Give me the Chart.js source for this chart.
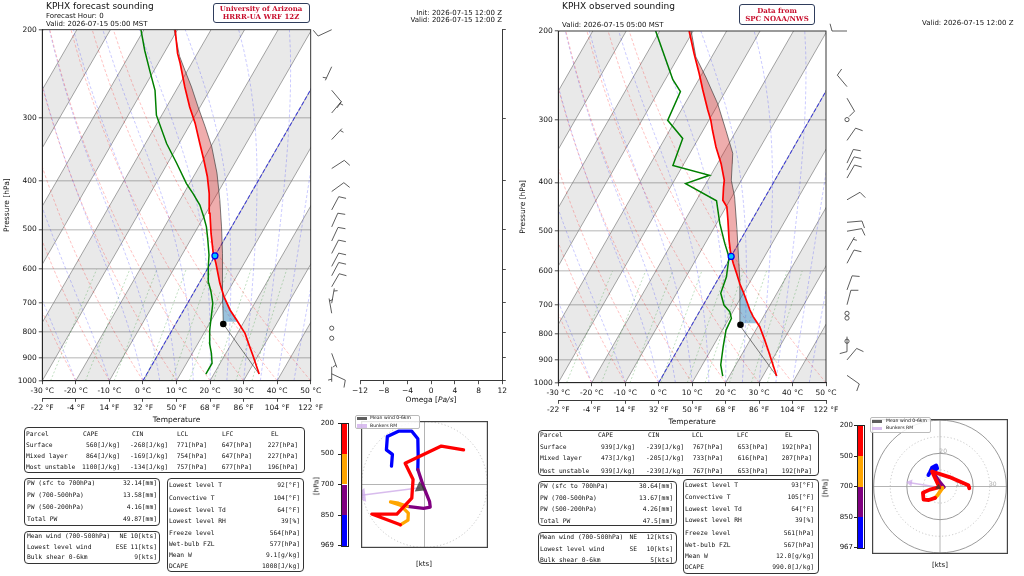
<!DOCTYPE html>
<html><head><meta charset="utf-8">
<title>KPHX soundings</title>
<script src="https://cdn.jsdelivr.net/npm/chart.js@4.4.1/dist/chart.umd.min.js"></script>
<style>
html,body{margin:0;padding:0;background:#fff;}
#page{position:relative;width:1024px;height:576px;overflow:hidden;font-family:"DejaVu Sans",sans-serif;color:#111;}
canvas{position:absolute;}
.tx{position:absolute;white-space:pre;line-height:1;will-change:transform;}
.box{position:absolute;box-sizing:border-box;border:1.2px solid #333;border-radius:4px;}
</style></head><body><div id="page">
<canvas id="skewL" width="360" height="425" style="left:0;top:0"></canvas>
<canvas id="omegaL" width="172" height="425" style="left:340px;top:0"></canvas>
<canvas id="skewR" width="368" height="427" style="left:512px;top:0"></canvas>
<canvas id="hodoL" width="143" height="143" style="left:352.7px;top:413.3px"></canvas>
<canvas id="hodoR" width="144" height="143" style="left:868.3px;top:415px"></canvas>
</div>
<script>
// ---------------- DATA ----------------
const TICKS_C = [-30,-20,-10,0,10,20,30,40,50];
const TICKS_P = [200,300,400,500,600,700,800,900,1000];
const TICKS_OMEGA = [-12,-8,-4,0,4,8,12];

// Left: forecast sounding (HRRR-UA)
const tempPL = [970,938,896,842,805,757,723,680,640,584,558,509,464,424,392,364,337,307,285,260,233,223,200];
const tempTL = [33.5,31.5,28.8,25.0,22.3,17.5,13.8,9.7,6.2,1.6,-0.9,-5.0,-8.8,-12.4,-15.9,-19.7,-23.8,-28.7,-33.1,-38.0,-43.5,-45.9,-50.7];
const dewPL  = [970,923,882,842,793,734,701,665,640,593,562,525,494,472,447,424,405,369,337,296,264,241,220,200];
const dewTL  = [17.6,17.6,15.7,13.4,11.2,8.9,7.5,5.0,2.9,-0.1,-1.9,-4.8,-7.5,-10.0,-13.2,-17.2,-20.9,-27.3,-33.7,-41.6,-46.3,-51.3,-56.2,-60.9];
const parcelPL = [970,771,701,611,558,494,437,386,342,312,285,260,241,226,200];
const parcelTL = [33.5,14.2,10.5,5.3,1.8,-3.0,-8.1,-13.6,-19.7,-25.1,-30.6,-36.0,-40.8,-44.8,-51.0];
const lclL = [771,14.2];
const freezeL = [564,0];
const cinLayerL = [763,647];
const capeLayerL = [647,227];
const barbPL   = [200,237,264,293,331,378,420,457,494,527,558,592,618,650,701,734,786,823,882,938,969];
const barbDirL = [245,205,140,40,43,57,54,28,24,25,27,28,28,30,10,350,0,0,160,180,115];
const barbSpdL = [10,5,10,5,5,10,10,10,10,10,10,10,10,10,5,5,0,0,5,5,10];

// Right: observed sounding (SPC)
const tempPR = [970,861,823,774,739,717,685,659,635,606,579,553,521,475,447,434,408,396,367,340,315,301,287,262,243,222,200];
const tempTR = [34.1,27.1,24.4,20.6,16.9,14.8,12.0,9.6,7.2,4.5,1.8,-0.7,-3.4,-7.2,-9.8,-12.1,-14.2,-15.1,-18.9,-23.3,-27.2,-29.4,-32.1,-37.0,-40.9,-45.8,-51.2];
const dewPR  = [970,922,848,786,745,723,701,664,616,563,528,482,435,402,387,370,327,301,264,250,200];
const dewTR  = [18.0,15.5,13.1,11.1,10.7,9.1,6.2,3.2,2.1,-0.5,-4.2,-9.1,-13.9,-26.1,-20.4,-33.0,-34.7,-42.3,-43.4,-47.7,-61.2];
const parcelPR = [970,770,700,626,497,427,396,350,315,279,247,225,200];
const parcelTR = [34.1,14.5,10.9,6.7,-2.8,-9.2,-13.0,-17.2,-23.2,-30.2,-38.3,-44.8,-50.6];
const lclR = [767,14.5];
const freezeR = [561,0];
const cinLayerR = [762,653];
const capeLayerR = [653,200];
const barbPR   = [200,258,272,300,330,366,378,392,433,480,500,545,579,654,700,728,744,810,827,901,967];
const barbDirR = [270,320,150,0,35,25,28,30,60,85,80,30,28,20,15,0,0,180,0,40,125];
const barbSpdR = [10,10,10,0,10,10,10,10,10,10,10,5,10,10,10,0,0,10,0,10,10];

// Hodographs (u, v in kts)
const hodoBlueL   = [[-10.4,5.8],[-10.1,9.5],[-12.0,10.9],[-11.7,15.1],[-8.2,16.8],[-4.0,16.8],[-2.1,14.4],[-2.0,9.5],[-2.1,4.7]];
const hodoPurpleL = [[-2.1,4.7],[-0.3,-0.7],[1.6,-5.4],[1.8,-7.1],[-0.3,-7.5],[-5.4,-6.9]];
const hodoOrangeL = [[-5.4,-6.9],[-8.2,-5.9],[-10.7,-5.5],[-7.6,-6.5],[-5.1,-9.0],[-5.2,-11.2],[-7.6,-12.7]];
const hodoRedL    = [[-7.6,-12.7],[-16.6,-9.3],[-8.7,-9.3],[-4.0,-4.3],[-3.6,1.6],[-6.1,6.7],[5.3,12.1],[12.3,10.9]];
const meanWindL = [-1.4,-1.0];
const bunkersL  = [-19.9,-3.4];
const hodoBlueR   = [[-7.0,7.0],[-6.1,8.6],[-4.8,11.4],[-2.3,12.8],[-1.7,11.0],[-4.6,9.1]];
const hodoPurpleR = [[-4.6,9.1],[-0.4,2.9],[2.3,-0.4],[1.5,-0.8]];
const hodoOrangeR = [[1.5,-0.8],[-1.5,-5.3],[-2.9,-6.9]];
const hodoRedR    = [[-2.9,-6.9],[-6.7,-8.2],[-9.9,-8.0],[-10.3,-3.8],[-6.1,-1.9],[-0.4,-0.4],[-4.8,9.1],[5.7,5.7],[17.1,0.8],[17.7,-1.1]];
const meanWindR = [-1.0,-0.4];
const bunkersR  = [-18.1,2.3];
const cbarLabelsL = ['200','500','700','850','969'];
const cbarLabelsR = ['200','500','700','850','967'];

// Tables
const parcelHead = ['Parcel','CAPE','CIN','LCL','LFC','EL'];
const parcelRowsL = [['Surface','560[J/kg]','-268[J/kg]','771[hPa]','647[hPa]','227[hPa]'],
  ['Mixed layer','864[J/kg]','-169[J/kg]','754[hPa]','647[hPa]','227[hPa]'],
  ['Most unstable','1100[J/kg]','-134[J/kg]','757[hPa]','677[hPa]','196[hPa]']];
const parcelRowsR = [['Surface','939[J/kg]','-239[J/kg]','767[hPa]','653[hPa]','192[hPa]'],
  ['Mixed layer','473[J/kg]','-205[J/kg]','733[hPa]','616[hPa]','207[hPa]'],
  ['Most unstable','939[J/kg]','-239[J/kg]','767[hPa]','653[hPa]','192[hPa]']];
const pwNames = ['PW (sfc to 700hPa)','PW (700-500hPa)','PW (500-200hPa)','Total PW'];
const pwValsL = ['32.14[mm]','13.58[mm]','4.16[mm]','49.87[mm]'];
const pwValsR = ['30.64[mm]','13.67[mm]','4.26[mm]','47.5[mm]'];
const windNames = ['Mean wind (700-500hPa)','Lowest level wind','Bulk shear 0-6km'];
const windDirL = ['NE','ESE',''];
const windValL = ['10[kts]','11[kts]','9[kts]'];
const windDirR = ['NE','SE',''];
const windValR = ['12[kts]','10[kts]','5[kts]'];
const miscNames = ['Lowest level T','Convective T','Lowest level Td','Lowest level RH','Freeze level','Wet-bulb FZL','Mean W','DCAPE'];
const miscValsL = ['92[°F]','104[°F]','64[°F]','39[%]','564[hPa]','577[hPa]','9.1[g/kg]','1008[J/kg]'];
const miscValsR = ['93[°F]','105[°F]','64[°F]','39[%]','561[hPa]','567[hPa]','12.0[g/kg]','990.0[J/kg]'];

// Background reference lines (Skew-T guides)
const DRY_THETA = [-30,-20,-10,0,10,20,30,40,50];
const MOIST_T0 = [-30,-20,-10,0,5,10,15,20,25,30,35,40,45,50];
const MIX_W = [0.0004,0.001,0.002,0.004,0.007,0.01,0.016,0.024,0.032];

// ---------------- HELPERS ----------------
const K = 60.3, LN5 = Math.log(5);
const frac = p => Math.log(1000/p)/LN5;
const sk = (T,p) => ({x:T+K*frac(p), y:p});
function interp(P,Tv,p){
  for(let i=0;i<P.length-1;i++){
    if(p<=P[i] && p>=P[i+1]){
      const f=(Math.log(P[i])-Math.log(p))/(Math.log(P[i])-Math.log(P[i+1]));
      return Tv[i]+f*(Tv[i+1]-Tv[i]);
    }
  }
  return p>P[0]?Tv[0]:Tv[Tv.length-1];
}
function layerPoly(pA,tA,pB,tB,pBot,pTop){
  const lv=[pBot];
  new Set([...pA,...pB]).forEach(p=>{ if(p<pBot && p>pTop) lv.push(p); });
  lv.sort((a,b)=>b-a); lv.push(pTop);
  const a=lv.map(p=>sk(interp(pA,tA,p),p));
  const b=lv.slice().reverse().map(p=>sk(interp(pB,tB,p),p));
  return a.concat(b,[a[0]]);
}
function moist(T0){
  const Rd=287.04,Cp=1005.7,Lv=2.501e6,eps=0.622;
  const f=(T,p)=>{const es=6.112*Math.exp(17.67*(T-273.15)/(T-29.65));const rs=eps*es/(p-es);
    return (Rd*T+Lv*rs)/(p*(Cp+Lv*Lv*rs*eps/(Rd*T*T)));};
  let T=T0+273.15,p=1000;const out=[sk(T0,1000)];const dp=-5;
  while(p>200){
    const k1=f(T,p),k2=f(T+0.5*dp*k1,p+0.5*dp),k3=f(T+0.5*dp*k2,p+0.5*dp),k4=f(T+dp*k3,p+dp);
    T+=dp*(k1+2*k2+2*k3+k4)/6;p+=dp;
    if(p%20===0) out.push(sk(T-273.15,p));
  }
  return out;
}
function dry(th){const o=[];for(let p=1000;p>=200;p-=20)o.push(sk((th+273.15)*Math.pow(p/1000,0.2857)-273.15,p));return o;}
function mixing(w){const o=[];for(let p=1000;p>=600;p-=20){const e=p*w/(0.622+w);const l=Math.log(e/6.112);o.push(sk(243.5*l/(17.67-l),p));}return o;}

function drawBarb(ctx,x,y,dir,spd){
  if(spd<2.5){ctx.beginPath();ctx.arc(x,y,2.1,0,2*Math.PI);ctx.stroke();return;}
  const L=15,a=dir*Math.PI/180,sx=Math.sin(a),sy=-Math.cos(a);
  const ex=x+sx*L,ey=y+sy*L;
  ctx.beginPath();ctx.moveTo(x,y);ctx.lineTo(ex,ey);ctx.stroke();
  const r=75*Math.PI/180,bx=sx*Math.cos(r)-sy*Math.sin(r),by=sx*Math.sin(r)+sy*Math.cos(r);
  let n10=Math.floor(spd/10),rem=spd-10*n10,n5=rem>=2.5?1:0;
  const sp=2.6,BL=7.5;let d=0;
  for(let k=0;k<n10;k++){const px=ex-sx*d,py=ey-sy*d;ctx.beginPath();ctx.moveTo(px,py);ctx.lineTo(px+bx*BL,py+by*BL);ctx.stroke();d+=sp;}
  if(n5){if(n10===0)d+=sp;const px=ex-sx*d,py=ey-sy*d;ctx.beginPath();ctx.moveTo(px,py);ctx.lineTo(px+bx*BL/2,py+by*BL/2);ctx.stroke();}
}
const framePlugin={id:'frame',afterDraw(c){const a=c.chartArea,ctx=c.ctx;ctx.save();ctx.strokeStyle='#222';ctx.lineWidth=0.9;ctx.strokeRect(a.left,a.top,a.right-a.left,a.bottom-a.top);ctx.restore();}};
function barbPlugin(P,D,S,off){return {id:'barbs',afterDraw(c){const ctx=c.ctx,y=c.scales.y,x0=c.chartArea.right+off;ctx.save();ctx.strokeStyle='#333';ctx.lineWidth=0.8;
  for(let i=0;i<P.length;i++)drawBarb(ctx,x0,y.getPixelForValue(P[i]),D[i],S[i]);ctx.restore();}};}

Chart.defaults.font.family='DejaVu Sans';
Chart.defaults.color='#111';
Chart.defaults.animation=false;

const tickFont={size:7.5};
function xScale(weight,h,cb,title){
  const s={type:'linear',position:'bottom',min:-30,max:50,weight:weight,
    afterBuildTicks:sc=>{sc.ticks=TICKS_C.map(v=>({value:v}));},
    afterFit:sc=>{sc.height=h;},
    ticks:{callback:cb,font:tickFont,padding:2,maxRotation:0,autoSkip:false,color:'#111'},
    grid:{drawOnChartArea:false,tickLength:3.5,tickColor:'#222',tickWidth:0.8},
    border:{display:true,color:'#222',width:0.9}};
  if(title) s.title={display:true,text:title,font:tickFont,padding:0,color:'#111'};
  return s;
}
function yScale(){
  return {type:'logarithmic',position:'left',min:200,max:1000,reverse:true,
    afterBuildTicks:sc=>{sc.ticks=TICKS_P.map(v=>({value:v}));},
    afterFit:sc=>{sc.width=39.3;},
    ticks:{callback:v=>String(v),font:tickFont,padding:2,autoSkip:false,color:'#111'},
    grid:{color:c=>(c.tick&&c.tick.value>200&&c.tick.value<1000)?'rgba(165,165,165,0.55)':'rgba(0,0,0,0)',lineWidth:1.6,tickLength:3.5,tickColor:'#222',tickWidth:0.8},
    border:{display:true,color:'#222',width:0.9},
    title:{display:true,text:'Pressure [hPa]',font:tickFont,padding:0,color:'#111'}};
}
function skewChart(id,d,pad){
  const ds=[];
  for(let t=-100;t<=40;t+=20) ds.push({data:[sk(t,1000),sk(t+10,1000),sk(t+10,200),sk(t,200),sk(t,1000)],fill:'shape',backgroundColor:'rgba(0,0,0,0.085)',borderWidth:0,pointRadius:0,order:60});
  for(let t=-100;t<=50;t+=10) ds.push({data:[sk(t,1000),sk(t,200)],borderColor:'rgba(120,120,120,0.85)',borderWidth:0.8,pointRadius:0,order:50});
  DRY_THETA.forEach(th=>ds.push({data:dry(th),borderColor:'rgba(255,0,0,0.35)',borderWidth:0.7,borderDash:[3,2],pointRadius:0,order:45}));
  MOIST_T0.forEach(t0=>ds.push({data:moist(t0),borderColor:'rgba(0,0,255,0.3)',borderWidth:0.7,borderDash:[3,2],pointRadius:0,order:45}));
  MIX_W.forEach(w=>ds.push({data:mixing(w),borderColor:'rgba(0,128,0,0.35)',borderWidth:0.7,borderDash:[2,2],pointRadius:0,order:45}));
  ds.push({data:[sk(0,1000),sk(0,200)],borderColor:'rgba(30,30,230,0.75)',borderWidth:1.1,borderDash:[4,2],pointRadius:0,order:40});
  ds.push({data:layerPoly(d.parP,d.parT,d.tP,d.tT,d.cape[0],d.cape[1]),fill:'shape',backgroundColor:'rgba(214,39,40,0.38)',borderWidth:0,pointRadius:0,order:30});
  ds.push({data:layerPoly(d.parP,d.parT,d.tP,d.tT,d.cin[0],d.cin[1]),fill:'shape',backgroundColor:'rgba(31,119,180,0.45)',borderWidth:0,pointRadius:0,order:30});
  ds.push({data:d.parP.map((p,i)=>sk(d.parT[i],p)),borderColor:'rgba(60,60,60,0.75)',borderWidth:0.9,pointRadius:0,order:10});
  ds.push({data:d.dP.map((p,i)=>sk(d.dT[i],p)),borderColor:'#008000',borderWidth:1.5,pointRadius:0,order:4});
  ds.push({data:d.tP.map((p,i)=>sk(d.tT[i],p)),borderColor:'#ff0000',borderWidth:1.7,pointRadius:0,order:3});
  ds.push({data:[sk(d.lcl[1],d.lcl[0])],showLine:false,pointRadius:3.3,pointBackgroundColor:'#000',pointBorderWidth:0,order:1});
  ds.push({data:[sk(d.fz[1],d.fz[0])],showLine:false,pointRadius:3,pointBackgroundColor:'rgb(0,200,255)',pointBorderColor:'#0000ee',pointBorderWidth:1.2,order:1});
  return new Chart(document.getElementById(id),{type:'line',data:{datasets:ds},
    options:{responsive:false,animation:false,events:[],layout:{padding:pad},
      plugins:{legend:{display:false},tooltip:{enabled:false}},
      scales:{x:xScale(0,17.6,v=>v+' °C'),x2:xScale(1,26.7,v=>Math.round(v*1.8+32)+' °F','Temperature'),y:yScale()}},
    plugins:[framePlugin,barbPlugin(d.bP,d.bD,d.bS,21)]});
}
skewChart('skewL',{tP:tempPL,tT:tempTL,dP:dewPL,dT:dewTL,parP:parcelPL,parT:parcelTL,lcl:lclL,fz:freezeL,cin:cinLayerL,cape:capeLayerL,bP:barbPL,bD:barbDirL,bS:barbSpdL},{left:3,top:29.7,right:49.3,bottom:0});
skewChart('skewR',{tP:tempPR,tT:tempTR,dP:dewPR,dT:dewTR,parP:parcelPR,parT:parcelTR,lcl:lclR,fz:freezeR,cin:cinLayerR,cape:capeLayerR,bP:barbPR,bD:barbDirR,bS:barbSpdR},{left:7,top:31,right:54,bottom:0});

// Omega panel (empty axes)
new Chart(document.getElementById('omegaL'),{type:'line',data:{datasets:[]},
  options:{responsive:false,animation:false,events:[],layout:{padding:{left:20,top:29.7,right:6.2,bottom:26.7}},
    plugins:{legend:{display:false},tooltip:{enabled:false}},
    scales:{x:{type:'linear',min:-12,max:12,afterBuildTicks:sc=>{sc.ticks=TICKS_OMEGA.map(v=>({value:v}));},afterFit:sc=>{sc.height=17.6;},
        ticks:{callback:v=>v<0?'\u2212'+(-v):String(v),font:tickFont,padding:2,maxRotation:0,autoSkip:false,color:'#111'},
        grid:{drawOnChartArea:false,tickLength:3.5,tickColor:'#222',tickWidth:0.8},border:{display:true,color:'#222',width:0.9}},
      y:{type:'logarithmic',position:'right',min:200,max:1000,reverse:true,afterBuildTicks:sc=>{sc.ticks=TICKS_P.map(v=>({value:v}));},afterFit:sc=>{sc.width=3.5;},
        ticks:{display:false},grid:{drawOnChartArea:false,tickLength:3.5,tickColor:'#222',tickWidth:0.8},border:{display:true,color:'#222',width:0.9}}}}});

// Hodographs
const ang = v => 90-Math.atan2(v[1],v[0])*180/Math.PI;
function hodoChart(id,R,segs,mean,rm,meanR,rmR,lw,rings,labels){
  const ds=[];
  ds.push({data:[{x:mean[0],y:mean[1]}],showLine:false,pointStyle:'triangle',pointRadius:meanR,pointRotation:ang(mean),pointBackgroundColor:'rgba(55,55,55,0.8)',pointBorderWidth:0,order:0});
  segs.forEach((s,i)=>ds.push({data:s[0].map(a=>({x:a[0],y:a[1]})),borderColor:s[1],borderWidth:lw,pointRadius:0,borderCapStyle:'round',borderJoinStyle:'round',order:4-i}));
  const rv=[rm[0]-mean[0],rm[1]-mean[1]];
  ds.push({data:[{x:mean[0],y:mean[1]},{x:rm[0],y:rm[1]}],borderColor:'rgba(200,160,230,0.7)',borderWidth:1.5,pointRadius:[0,rmR],pointStyle:'triangle',pointRotation:ang(rv),pointBackgroundColor:'rgba(205,170,235,0.75)',pointBorderWidth:0,order:8});
  const ringPlugin={id:'rings',beforeDatasetsDraw(c){
    const ctx=c.ctx,a=c.chartArea,xs=c.scales.x,ys=c.scales.y,cx=xs.getPixelForValue(0),cy=ys.getPixelForValue(0);
    ctx.save();ctx.beginPath();ctx.rect(a.left,a.top,a.right-a.left,a.bottom-a.top);ctx.clip();
    rings.forEach(r=>{const rad=xs.getPixelForValue(r[0])-cx;ctx.beginPath();ctx.setLineDash(r[1]);ctx.strokeStyle=r[2];ctx.lineWidth=r[3];ctx.arc(cx,cy,rad,0,2*Math.PI);ctx.stroke();});
    ctx.setLineDash([]);ctx.strokeStyle='rgba(150,150,150,0.8)';ctx.lineWidth=0.9;
    ctx.beginPath();ctx.moveTo(a.left,cy);ctx.lineTo(a.right,cy);ctx.moveTo(cx,a.top);ctx.lineTo(cx,a.bottom);ctx.stroke();
    ctx.fillStyle='rgba(150,150,150,0.8)';ctx.font='6px "DejaVu Sans"';ctx.textAlign='center';ctx.textBaseline='middle';
    labels.forEach(l=>ctx.fillText(l[2],xs.getPixelForValue(l[0]),ys.getPixelForValue(l[1])));
    ctx.restore();}};
  const ax={type:'linear',min:-R,max:R,display:false};
  new Chart(document.getElementById(id),{type:'line',data:{datasets:ds},
    options:{responsive:false,animation:false,events:[],layout:{padding:0},plugins:{legend:{display:false},tooltip:{enabled:false}},
      scales:{x:ax,y:Object.assign({},ax)}},plugins:[ringPlugin,{id:'fr',afterDraw(c){const a=c.chartArea,ctx=c.ctx;ctx.save();ctx.strokeStyle='#444';ctx.lineWidth=1.2;ctx.strokeRect(a.left+0.6,a.top+0.6,a.right-a.left-1.2,a.bottom-a.top-1.2);ctx.restore();}}]});
}
hodoChart('hodoL',20,[[hodoBlueL,'#0000ff'],[hodoPurpleL,'#800080'],[hodoOrangeL,'#ffa500'],[hodoRedL,'#ff0000']],meanWindL,bunkersL,6.5,8,3.3,
  [[19.8,[1.2,2.2],'rgba(170,170,170,0.8)',0.8]],[]);
hodoChart('hodoR',41,[[hodoBlueR,'#0000ff'],[hodoPurpleR,'#800080'],[hodoOrangeR,'#ffa500'],[hodoRedR,'#ff0000']],meanWindR,bunkersR,3.5,4,3.8,
  [[10,[1.2,2.2],'rgba(170,170,170,0.8)',0.8],[20,[],'rgba(130,130,130,0.9)',0.9],[30,[1.2,2.2],'rgba(170,170,170,0.8)',0.8],[40,[],'rgba(130,130,130,0.9)',0.9]],
  [[11.8,1,'10'],[1.9,21.3,'20'],[31.8,1,'30']]);

// ---------------- TEXT / TABLES ----------------
const page=document.getElementById('page');
function T(x,y,s,o={}){
  const d=document.createElement('div');d.className='tx';d.textContent=s;const sz=o.size||7;
  d.style.fontSize=sz+'px';if(o.font)d.style.fontFamily=o.font;if(o.bold)d.style.fontWeight='bold';if(o.color)d.style.color=o.color;
  d.style.left=x+'px';d.style.top=(y-sz*0.5)+'px';
  let tr='translateX(0)';if(o.align==='right')tr='translateX(-100%)';else if(o.align==='center')tr='translateX(-50%)';
  d.style.transform=tr;page.appendChild(d);return d;}
function V(x,y,s,sz){const d=document.createElement('div');d.className='tx';d.textContent=s;d.style.fontSize=sz+'px';d.style.left=x+'px';d.style.top=y+'px';d.style.transform='translate(-50%,-50%) rotate(-90deg)';page.appendChild(d);}
function box(x1,y1,x2,y2,extra){const d=document.createElement('div');d.className='box';d.style.left=x1+'px';d.style.top=y1+'px';d.style.width=(x2-x1)+'px';d.style.height=(y2-y1)+'px';if(extra)Object.assign(d.style,extra);page.appendChild(d);return d;}
function rect(x,y,w,h,c,b){const d=document.createElement('div');d.style.cssText='position:absolute;left:'+x+'px;top:'+y+'px;width:'+w+'px;height:'+h+'px;background:'+c+';'+(b||'');page.appendChild(d);}
const MONO='"DejaVu Sans Mono",monospace';
const SERIF='"DejaVu Serif",serif';

// headers
T(46,6.3,'KPHX forecast sounding',{size:9});
T(46,16,'Forecast Hour: 0',{size:7});
T(46,24.3,'Valid: 2026-07-15 05:00 MST',{size:7});
box(212.7,2.7,310,23.3,{border:'1.4px solid #2f3d5c',borderRadius:'3px'});
T(261.3,8.6,'University of Arizona',{size:7,font:SERIF,bold:true,color:'#c8102e',align:'center'});
T(261.3,16.9,'HRRR-UA WRF 12Z',{size:7,font:SERIF,bold:true,color:'#c8102e',align:'center'});
T(501.7,13.3,'Init: 2026-07-15 12:00 Z',{size:7,align:'right'});
T(501.7,20.8,'Valid: 2026-07-15 12:00 Z',{size:7,align:'right'});

T(562,6.8,'KPHX observed sounding',{size:9});
T(562,25,'Valid: 2026-07-15 05:00 MST',{size:7});
box(739.3,4,815.3,25,{border:'1.4px solid #2f3d5c',borderRadius:'3px'});
T(777.3,10.2,'Data from',{size:7,font:SERIF,bold:true,color:'#c8102e',align:'center'});
T(777.3,18.5,'SPC NOAA/NWS',{size:7,font:SERIF,bold:true,color:'#c8102e',align:'center'});
T(922,23.3,'Valid: 2026-07-15 12:00 Z',{size:7});

// omega title
(function(){const d=T(431,400,'',{size:7.5,align:'center'});d.innerHTML='Omega [<i>Pa/s</i>]';})();

function tables(L){
  const fs=L.fs;
  box(...L.b1);
  parcelHead.forEach((h,i)=>T(L.hx[i],L.r1[0],h,{font:MONO,size:fs}));
  L.rows.forEach((r,j)=>{T(L.hx[0],L.r1[j+1],r[0],{font:MONO,size:fs});
    for(let k=1;k<6;k++)T(L.vx[k-1],L.r1[j+1],r[k],{font:MONO,size:fs,align:'right'});});
  box(...L.b2);
  pwNames.forEach((n,j)=>{T(L.lx2,L.r2[j],n,{font:MONO,size:fs});T(L.rx2,L.r2[j],L.pw[j],{font:MONO,size:fs,align:'right'});});
  box(...L.b3);
  windNames.forEach((n,j)=>{T(L.lx2,L.r3[j],n,{font:MONO,size:fs});if(L.wd[j])T(L.dx3,L.r3[j],L.wd[j],{font:MONO,size:fs,align:'right'});T(L.rx2,L.r3[j],L.wv[j],{font:MONO,size:fs,align:'right'});});
  box(...L.b4);
  miscNames.forEach((n,j)=>{T(L.lx4,L.r4[j],n,{font:MONO,size:fs});T(L.rx4,L.r4[j],L.mv[j],{font:MONO,size:fs,align:'right'});});
}
tables({fs:6.3,b1:[24,427.3,305,472.7],hx:[26,83.3,132.3,176.7,222.3,270.7],vx:[119.5,168,207,252,298],r1:[434,444.7,455.7,466.7],rows:parcelRowsL,
  b2:[24,478.3,160,526],lx2:26.7,rx2:156.7,r2:[483.3,495.3,507.3,519],pw:pwValsL,
  b3:[24,531,160,564],r3:[536,546.7,557.3],dx3:127,wd:windDirL,wv:windValL,
  b4:[166.7,478.3,304.3,571.7],lx4:169.3,rx4:300.3,r4:[484.7,497.7,509.7,521,532.7,544,555,566],mv:miscValsL});
tables({fs:6.3,b1:[538.3,430,819.3,475.7],hx:[540,598.3,648.3,692.3,737.3,785],vx:[634.5,684,722.6,767.6,812.3],r1:[435,446.7,458.3,470.7],rows:parcelRowsR,
  b2:[538.3,481,676.7,526],lx2:540,rx2:673.3,r2:[485.7,497.7,509.3,520.7],pw:pwValsR,
  b3:[538.3,532.3,676.7,564.3],r3:[537.3,548.7,560],dx3:637.3,wd:windDirR,wv:windValR,
  b4:[682.7,479.3,819.3,574],lx4:685.3,rx4:814.3,r4:[485.3,496.7,508.7,520,533.3,545,556,567.3],mv:miscValsR});

// colorbars + hodograph legends
function cbar(x,y,w,h,labels,lx,hx){
  const cols=['#ff0000','#ffa500','#800080','#0000ff'];
  cols.forEach((c,i)=>rect(x,y+i*h/4,w,h/4,c));
  rect(x-0.5,y-0.5,w,h,'transparent','border:0.6px solid #222;');
  labels.forEach((l,i)=>{T(lx,y+i*h/4,l,{size:7,align:'right'});rect(x-3.5,y+i*h/4-0.4,3.5,0.8,'#222');});
  V(hx,y+h/2+1,'[hPa]',7);
}
cbar(341,423.3,6.3,122.4,cbarLabelsL,333.5,316.7);
cbar(857.3,425.7,6,122,cbarLabelsR,853,826);
function legend(x1,y1,x2,y2,py1,py2,px,tx){
  box(x1,y1,x2,y2,{border:'0.6px solid #bbb',borderRadius:'2px',background:'rgba(255,255,255,0.85)'});
  rect(px,py1-1.8,10,3.6,'rgba(55,55,55,0.8)');
  rect(px,py2-1.8,10,3.6,'rgba(205,170,235,0.75)');
  T(tx,py1,'Mean wind 0-6km',{size:4.6});
  T(tx,py2,'Bunkers RM',{size:4.6});
}
legend(355,415.3,420,429.5,418.5,425.8,357,369.5);
legend(869.8,416.8,930.7,432.7,421.6,428.3,871.7,885.5);
T(424.3,564.5,'[kts]',{size:7,align:'center'});
T(940,565.5,'[kts]',{size:7,align:'center'});
</script></body></html>
